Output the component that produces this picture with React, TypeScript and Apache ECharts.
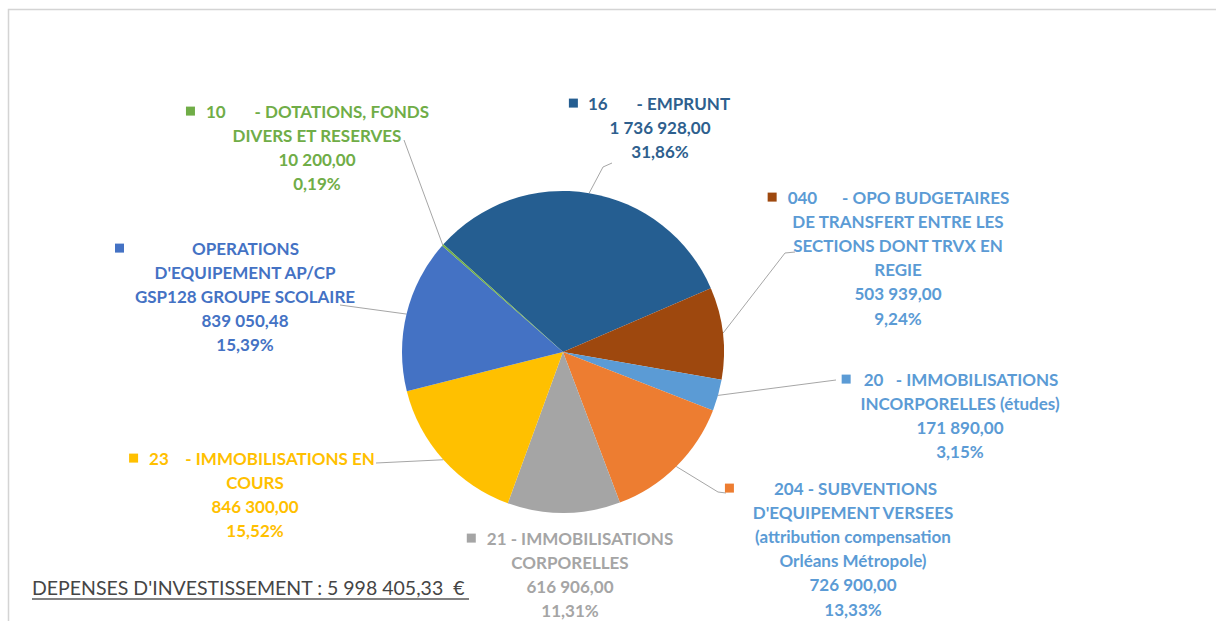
import React, { useEffect, useRef } from "react";
import * as echarts from "echarts";

// ---- data ----
const codes = ["16", "040", "20", "204", "21", "23", "", "10"];
const labelLines: string[][] = [
  ["16       - EMPRUNT"],
  ["040      - OPO BUDGETAIRES", "DE TRANSFERT ENTRE LES", "SECTIONS DONT TRVX EN", "REGIE"],
  ["20   - IMMOBILISATIONS", "INCORPORELLES (études)"],
  ["204 - SUBVENTIONS", "D'EQUIPEMENT VERSEES", "(attribution compensation", "Orléans Métropole)"],
  ["21 - IMMOBILISATIONS", "CORPORELLES"],
  ["23    - IMMOBILISATIONS EN", "COURS"],
  ["OPERATIONS", "D'EQUIPEMENT AP/CP", "GSP128 GROUPE SCOLAIRE"],
  ["10       - DOTATIONS, FONDS", "DIVERS ET RESERVES"],
];
const values = [1736928, 503939, 171890, 726900, 616906, 846300, 839050.48, 10200];
const percentLabels = ["31,86%", "9,24%", "3,15%", "13,33%", "11,31%", "15,52%", "15,39%", "0,19%"];
const totalTitle = "DEPENSES D'INVESTISSEMENT : 5 998 405,33  €";

// ---- styles / layout ----
const sliceColors = ["#255E91", "#9E480E", "#5B9BD5", "#ED7D31", "#A5A5A5", "#FFC000", "#4472C4", "#70AD47"];
const textColors = ["#2E5F8E", "#5B9BD5", "#5B9BD5", "#5B9BD5", "#A5A5A5", "#FFC000", "#4472C4", "#70AD47"];
// label block position: [centre x, top y]
const labelPos: [number, number][] = [
  [660, 91],
  [898, 185],
  [960, 367],
  [853, 476],
  [570, 526],
  [255, 446],
  [245, 236],
  [317, 99],
];
// first line: gap after the marker, and blank space after the text
const markerGap = [10, 11, 13, 40, 11, 11, 68, 11];
const firstPad = [21, 19, 20, 44, 0, 6, 76, 19];
// where each leader line ends, next to its label
const leaderEnds: number[][][] = [
  [[603, 167], [612, 163]],
  [[785, 253], [795, 252]],
  [[836, 380]],
  [[718, 492], [726, 493]],
  [],
  [[376, 463]],
  [[340, 305]],
  [[404, 140]],
];

function fmtNum(v: number): string {
  const fixed = v.toFixed(2);
  const [ip, dp] = fixed.split(".");
  const grouped = ip.replace(/\B(?=(\d{3})+(?!\d))/g, " ");
  return grouped + "," + dp;
}

export default function App() {
  const ref = useRef<HTMLDivElement>(null);
  useEffect(() => {
    if (!ref.current) return;
    const chart = echarts.init(ref.current, null, { renderer: "svg" });
    const font = "Lato, 'Liberation Sans', sans-serif";
    const fs = 17;
    const lh = 24.2;
    const data = values.map((v, i) => ({
      name: labelLines[i].join(" "),
      value: v,
      itemStyle: { color: sliceColors[i] },
      label: {
        color: textColors[i],
        rich: {
          m: { backgroundColor: sliceColors[i], width: 9, height: 9 },
          g: { width: markerGap[i], height: 9 },
          p: { width: firstPad[i], height: 9 },
          t: { color: textColors[i], fontFamily: font, fontWeight: "bold", fontSize: fs, lineHeight: lh },
        },
      },
      labelLine: { show: i !== 4 },
    }));
    chart.setOption({
      animation: false,
      backgroundColor: "#ffffff",
      graphic: [
        {
          type: "rect",
          shape: { x: 8.5, y: 9.5, width: 1400, height: 800 },
          style: { fill: "none", stroke: "#d4d4d4", lineWidth: 1.5 },
          silent: true,
        },
        {
          type: "text",
          x: 32,
          y: 587,
          style: {
            text: totalTitle,
            fill: "#454545",
            font: "19.5px Lato, 'Liberation Sans', sans-serif",
            verticalAlign: "middle",
          },
        },
        {
          type: "line",
          shape: { x1: 32, y1: 599, x2: 469, y2: 599 },
          style: { stroke: "#595959", lineWidth: 1.3 },
        },
      ],
      series: [
        {
          type: "pie",
          center: [563, 352],
          radius: 161,
          startAngle: 138,
          clockwise: true,
          avoidLabelOverlap: false,
          label: {
            show: true,
            position: "outside",
            align: "center",
            fontFamily: font,
            fontWeight: "bold",
            fontSize: fs,
            lineHeight: lh,
            formatter: (p: any) => {
              const i = p.dataIndex;
              const lines = labelLines[i].slice();
              const first = "{m|}{g|}{t|" + lines[0] + "}" + (firstPad[i] > 0 ? "{p|}" : "");
              const rest = lines.slice(1).map((l) => "{t|" + l + "}");
              return [first, ...rest, "{t|" + fmtNum(p.value) + "}", "{t|" + percentLabels[i] + "}"].join("\n");
            },
          },
          labelLine: {
            show: true,
            length: 10,
            length2: 10,
            lineStyle: { color: "#A6A6A6", width: 1 },
          },
          labelLayout: (params: any) => {
            const i = params.dataIndex;
            const [x, y] = labelPos[i];
            const out: any = { x, y, align: "center", verticalAlign: "top" };
            const pts = params.labelLinePoints;
            if (pts && pts.length && leaderEnds[i].length) {
              out.labelLinePoints = [pts[0], ...leaderEnds[i]];
            }
            return out;
          },
          data,
        },
      ],
    });
    return () => chart.dispose();
  }, []);
  return (
    <div
      ref={ref}
      style={{ position: "fixed", left: 0, top: 0, width: 1216, height: 621 }}
    />
  );
}
